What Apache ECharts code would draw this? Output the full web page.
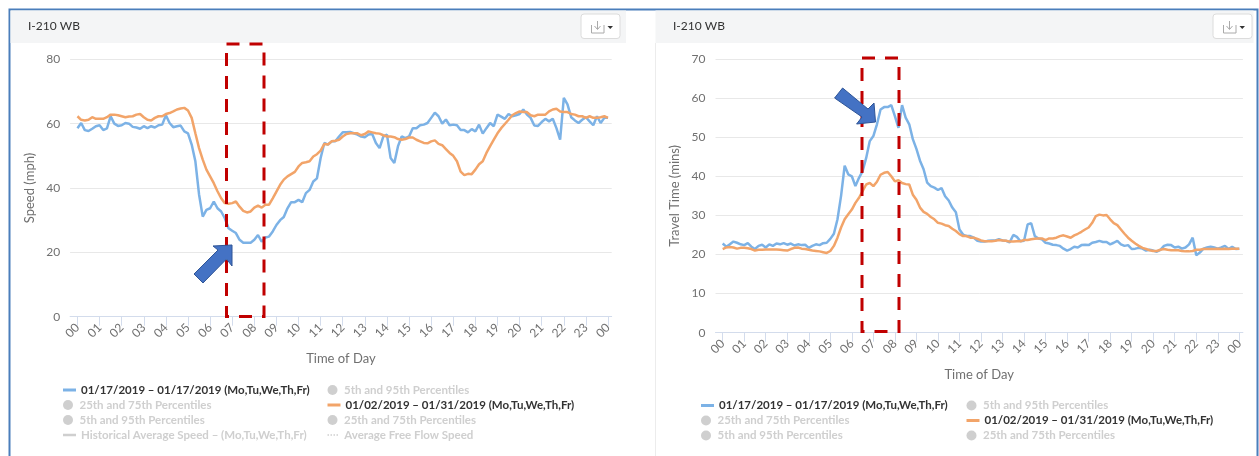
<!DOCTYPE html>
<html><head><meta charset="utf-8">
<style>html,body{margin:0;padding:0;background:#fff}#c{width:1259px;height:456px}</style>
<script src="https://cdn.jsdelivr.net/npm/echarts@6/dist/echarts.min.js"></script>
</head><body><div id="c"></div>
<script>
const titleText = 'I-210 WB';
const yearA = '01/17/2019 – 01/17/2019 (Mo,Tu,We,Th,Fr)';
const yearB = '01/02/2019 – 01/31/2019 (Mo,Tu,We,Th,Fr)';
const p595 = '5th and 95th Percentiles';
const p2575 = '25th and 75th Percentiles';
const hist = 'Historical Average Speed – (Mo,Tu,We,Th,Fr)';
const free = 'Average Free Flow Speed';
const speedTicks = {min:0,max:80,interval:20};
const timeTicks = {min:0,max:70,interval:10};

// one value every 10 minutes, 00:00 to 24:00
const speedDay = [
58.6,60.2,58,57.7,58.4,59.2, 59.5,58,58.5,62.3,60,59.3,
59.5,60.2,60,59,58.8,58.4, 59.2,58.6,59.2,58.8,59.5,59.7,
62.6,60.2,58.9,59.2,59.4,57.6, 57,53.5,48.3,38,31.1,33.2,
33.7,35.8,33.7,32.7,30.6,27.5, 26.7,26,23.9,23,23,23,
23.9,25.4,23.3,24.6,24.9,26.5, 28.5,30,31,33.7,35.6,35.6,
36.3,35.6,38.4,39.4,42,43, 49.3,54,53.5,54.5,54.5,56,
57.3,57.3,57.4,57,56.6,56, 55.8,56.6,56.8,54,52.4,56,
56.6,49.3,47.8,53,56,55.5, 56,58.6,58.6,59.5,59.7,60.2,
61.8,63.4,62.3,60,61.3,59.5, 59.7,59.5,58,58,57.3,58.3,
57.6,59.7,56.9,58.6,60.2,59.2, 62.8,62.2,61.5,63,62.3,62.6,
63,64.4,62.8,61.8,59.4,59.3, 60.5,61.5,60.7,61.5,58.6,55,
68,66,62,61,60.2,61.2, 62,60.7,59.5,62.3,60.2,61.8, 61.8];
const speedRange = [
62.3,61.2,61,61.2,62,61.5, 61.5,61.5,62,62.8,62.8,62.6,
62.3,62,62.2,62.3,62.8,63, 62,61.2,61,61.8,62.3,62.3,
63,63.3,63.8,64.4,64.7,64.9, 64.1,61.8,57,52.4,48.8,45.7,
43.6,41.5,39,36.8,35.3,35.1, 35.3,35.8,34.2,32.9,32.4,32.7,
33.9,34.5,33.9,34.8,34.8,36.8, 38.9,41,42.6,43.6,44.3,45,
46.7,47.8,48,48.3,49.8,50.5, 51.6,53.7,53.5,54.5,54.7,55,
56,56.8,57,57,57,56.4, 56.8,57.6,57.3,57,56.9,56.4,
56,56,55.8,55.2,55,55.2, 55.7,55.7,55,54.5,54,53.9,
54.5,54.8,53.7,53.3,52.1,50.9, 50,48.3,45.1,44,44.4,44.3,
45.7,47.4,48.3,50.9,53,55, 57,58.6,59.9,61.2,62.6,63.3,
63.8,63.6,63.6,62.6,62.3,62.8, 62.8,62.8,63.8,64.4,64.6,63.8,
63.6,63.6,63,62.8,62.3,62.3, 61.8,62.3,61.8,61.8,62,62.3, 61.8];
const travelDay = [
22.8,22,22.6,23.3,23,22.6, 22.4,22.9,22,21.4,22.2,22.5,
21.8,22.6,22.2,22.8,22.6,22.9, 22.5,22.8,22.3,22.6,22.4,22.5,
21.7,22.2,22.6,22.4,22.9,23, 24,25.3,29,35,42.7,40.5,
40,37.5,39.6,41.3,44.7,49, 50.3,53.3,57.1,57.7,57.7,58.2,
55.4,52.4,58.2,55,53.3,49.5, 47,44,41.8,38.4,37.5,37.1,
36.5,37,34.9,33.8,32,30.8, 26.4,25.1,24.7,24.7,24.3,23.5,
23.3,23.3,23.5,23.6,23.6,23.9, 23.6,23.5,23.1,25,24.5,23.4,
23.5,27.7,28,24.7,24.1,23.9, 23,22.8,22.5,22.4,22.2,21.5,
21,21.4,22,21.8,22.4,22.5, 22.4,23,23.2,23.5,23.2,23.2,
22.6,23,23.5,22.6,22.2,22.4, 21.4,21.5,21.7,21.5,21,21.2,
21,20.7,21.2,22.2,22.5,22.4, 21.8,22,21.5,21.8,22.6,24.3,
19.8,20.5,21.5,21.8,22,21.8, 21.5,21.8,22.2,21.4,22,21.4, 21.5];
const travelRange = [
21.4,21.8,21.9,21.8,21.5,21.7, 21.7,21.6,21.4,21,21.2,21.2,
21.3,21.3,21.3,21.3,21.2,21.1, 21,21.4,21.7,21.8,21.5,21.4,
21.2,21,20.9,20.8,20.6,20.4, 20.9,22.2,24.3,26.9,29,30.3,
31.5,33.2,34.5,36.2,37.9,38.3, 37.5,38.6,40.4,40.9,41.1,40,
38.7,39,38.3,38,37.9,35.3, 34,32,30.9,30.4,29.6,29,
28.1,27.9,27.5,27.3,26.6,26, 25.2,24.7,24.7,24.3,24.3,24,
23.6,23.4,23.4,23.4,23.5,23.7, 23.6,23.5,23.3,23.3,23.4,23.4,
23.7,23.7,23.9,24,24.1,24.1, 23.7,24.1,24.1,24.3,24.7,24.9,
24.6,24.3,24.9,25.3,25.8,26.4, 26.9,28.1,29.8,30.2,30,30.1,
29,28,27.5,26.4,25.3,24.3, 23.5,22.8,22.2,21.7,21.4,21.1,
20.9,20.9,21.2,21.4,21.2,21.1, 21.1,21.1,20.9,20.8,20.8,20.9,
21.2,21.2,21.4,21.4,21.4,21.4, 21.5,21.4,21.5,21.4,21.5,21.5, 21.5];

const hours = ['00','01','02','03','04','05','06','07','08','09','10','11','12','13','14','15','16','17','18','19','20','21','22','23','00'];
const minuteMarks = ['00','10','20','30','40','50'];
const categories = ['',''];
hours.forEach((h,i)=>{ (i===24?['00']:minuteMarks).forEach(m=>categories.push(h+':'+m)); });
categories.push('');
const pad = a => [null,null,...a,null];
const BLUE='#7cb2e6', ORANGE='#f2a469', GRID='#e8e8e8', AXIS='#d3dcec', TXT='#707070', FONT='Lato';
const isHour = (i,v)=> typeof v==='string' && v.endsWith(':00');

const mkX = (gridIndex)=>({gridIndex,type:'category',boundaryGap:false,data:categories,
  name:'Time of Day',nameLocation:'middle',nameGap:36,nameTextStyle:{color:TXT,fontSize:13,fontFamily:FONT},
  axisLine:{onZero:false,lineStyle:{color:AXIS,width:1}},
  axisTick:{interval:isHour,length:9,lineStyle:{color:AXIS}},
  axisLabel:{interval:isHour,rotate:45,color:TXT,fontSize:12,fontFamily:FONT,margin:9,formatter:v=>v.slice(0,2),hideOverlap:false},
  splitLine:{show:false}});
const mkY = (gridIndex,name,t)=>({gridIndex,type:'value',min:t.min,max:t.max,interval:t.interval,
  name,nameLocation:'middle',nameGap:34,nameTextStyle:{color:TXT,fontSize:13,fontFamily:FONT},
  axisLine:{show:false},axisTick:{show:false},
  axisLabel:{color:TXT,fontSize:12,fontFamily:FONT,margin:10},
  splitLine:{lineStyle:{color:GRID,width:1}}});
const mkLine=(name,data,color,i)=>({type:'line',name,data:pad(data),xAxisIndex:i,yAxisIndex:i,symbol:'none',
  connectNulls:false,lineStyle:{color,width:2.5},itemStyle:{color},z:color===ORANGE?4:3,silent:true});
const mkEmpty=(name,color)=>({type:'line',name,data:[],symbol:'none',lineStyle:{color},itemStyle:{color}});

const DOTS='path://M0 0h2v2H0z M4 0h2v2H4z M8 0h2v2H8z M12 0h2v2H12z';
const mkRow=(name,left,top,kind)=>{
  const active = kind==='line';
  const icon = kind==='circle'?'circle':kind==='dots'?DOTS:'rect';
  const h = kind==='circle'?10:kind==='dots'?1.5:kind==='grey'?2.5:3;
  return {left,top,padding:0,itemWidth:13,itemHeight:h,itemGap:0,icon,orient:'horizontal',
    data:[name],selected:active?{}:{[name]:false},inactiveColor:'#cfcfcf',inactiveBorderWidth:0,
    selectedMode:false,
    textStyle:{fontFamily:FONT,fontSize:11.5,fontWeight:'bold',color:'#333',padding:[0,0,0,0]}};
};
const rows=[
 [yearA,63,384,'line'],[p2575,63,399,'circle'],[p595,63,414,'circle'],[hist,63,429,'grey'],
 [p595,327.5,384,'circle'],[yearB,327.5,399,'line'],[p2575,327.5,414,'circle'],[free,327.5,429,'dots'],
 [yearA,701,399.5,'line'],[p2575,701,414.5,'circle'],[p595,701,429.5,'circle'],
 [p595,966.5,399.5,'circle'],[yearB,966.5,414.5,'line'],[p2575,966.5,429.5,'circle']];

const rect=(x,y,w,h,style,z,r)=>({type:'rect',shape:{x,y,width:w,height:h,r:r||0},style,z,silent:true});
const poly=(points,style,z)=>({type:'polygon',shape:{points},style,z,silent:true});
const pline=(points,style,z)=>({type:'polyline',shape:{points},style,z,silent:true});
const button=(x)=>[
  rect(x,14,39,24.5,{fill:'#fff',stroke:'#dcdcdc',lineWidth:1},-1,3),
  pline([[x+10.5,25],[x+10.5,33],[x+23,33],[x+23,25]],{stroke:'#aaa',fill:'none',lineWidth:1},0),
  pline([[x+16.5,21],[x+16.5,29]],{stroke:'#aaa',fill:'none',lineWidth:1},0),
  pline([[x+13.5,26],[x+16.5,29.5],[x+19.5,26]],{stroke:'#aaa',fill:'none',lineWidth:1},0),
  poly([[x+26.5,26],[x+32,26],[x+29.25,29]],{fill:'#333'},0)];
const dash={stroke:'#c00000',fill:'none',lineWidth:3,lineDash:[13,10]};
const arrowStyle={fill:'#4472c4',stroke:'#2f5597',lineWidth:1};
const graphic=[
  rect(9.5,9.5,1248,470,{fill:'none',stroke:'#4a7ebb',lineWidth:2},-3),
  rect(10.5,10.5,615.5,32.5,{fill:'#f4f5f6'},-2),
  rect(655.5,10.5,598,32.5,{fill:'#f4f5f6'},-2),
  pline([[655.5,43],[655.5,456]],{stroke:'#ececec',fill:'none',lineWidth:1},-2),
  ...button(581),...button(1213),
  rect(226.5,44,37.5,272.5,dash,10),
  rect(862,58,37,273.5,dash,10),
  poly([[232,245],[232,266],[226.5,259],[203,283],[194,274],[218,250],[213,246]],arrowStyle,11),
  poly([[842.6,88],[868,109],[874,103],[875.5,122],[856.6,124],[862,117],[834.6,98]],arrowStyle,11)
];

const option={
  animation:false,backgroundColor:'#fff',
  title:[
    {text:titleText,left:28,top:20,padding:0,textStyle:{fontFamily:FONT,fontSize:12,fontWeight:'normal',color:'#333'}},
    {text:titleText,left:673,top:20,padding:0,textStyle:{fontFamily:FONT,fontSize:12,fontWeight:'normal',color:'#333'}}],
  grid:[
    {left:70.1,top:59.3,width:541.6,height:257.4},
    {left:715.5,top:59,width:527.4,height:273.7}],
  xAxis:[mkX(0),mkX(1)],
  yAxis:[mkY(0,'Speed (mph)',speedTicks),mkY(1,'Travel Time (mins)',timeTicks)],
  legend:rows.map(r=>mkRow(...r)),
  series:[
    mkLine(yearA,speedDay,BLUE,0),mkLine(yearB,speedRange,ORANGE,0),
    mkLine(yearA,travelDay,BLUE,1),mkLine(yearB,travelRange,ORANGE,1),
    mkEmpty(p595,'#ccc'),mkEmpty(p2575,'#ccc'),mkEmpty(hist,'#ccc'),mkEmpty(free,'#ccc')],
  graphic
};
echarts.init(document.getElementById('c'),null,{renderer:'canvas'}).setOption(option);
</script></body></html>
